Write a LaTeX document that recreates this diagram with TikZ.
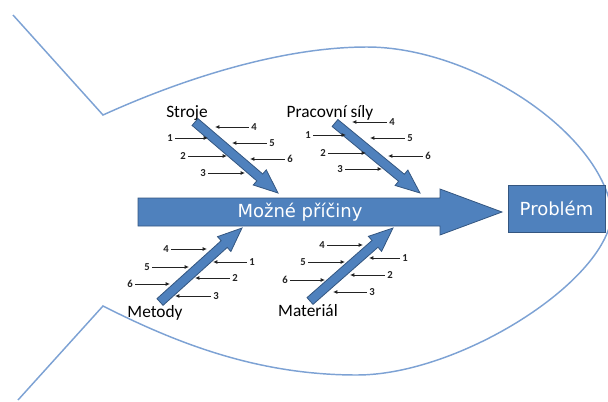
\documentclass[tikz,border=0pt]{standalone}
\usepackage{fontspec}
\setmainfont{Carlito}
\newfontfamily\boxfont{DejaVu Sans}
\usetikzlibrary{calc,arrows.meta}

\definecolor{fishline}{RGB}{125,162,212}
\definecolor{bonefill}{RGB}{79,129,189}
\definecolor{bonedraw}{RGB}{52,86,128}
\definecolor{tickgray}{RGB}{35,35,35}

\tikzset{
  outline/.style={draw=fishline, line width=1.1pt, line join=miter},
  blockarrow/.style={fill=bonefill, draw=bonedraw, line width=0.6pt, line join=miter},
  whitetext/.style={text=white, font=\boxfont\fontsize{13.5}{16}\selectfont, inner sep=0pt},
  bonelabel/.style={text=black, font=\fontsize{13}{15}\selectfont, inner sep=0pt},
  num/.style={text=tickgray, font=\bfseries\fontsize{8}{9}\selectfont, inner sep=1.6pt},
  tick/.style={draw=tickgray, line width=0.7pt, -{Latex[length=3.2pt,width=3pt]}},
}

% bone arrow from #1 (tail) to #2 (tip)
\newcommand\bonearrow[2]{%
  \coordinate (hb) at ($(#2)!18pt!(#1)$);
  \filldraw[blockarrow]
    ($(#1)!3.4pt!90:(#2)$) -- ($(hb)!3.4pt!-90:(#1)$) -- ($(hb)!7.5pt!-90:(#1)$)
    -- (#2) -- ($(hb)!7.5pt!90:(#1)$) -- ($(hb)!3.4pt!90:(#1)$)
    -- ($(#1)!3.4pt!-90:(#2)$) -- cycle;}

% numbered cause: node name, number, x, y, arrow end x
\newcommand\cause[5]{%
  \node[num] (#1) at (#3,#4) {#2};
  \coordinate (#1e) at (#5,#4);
  \draw[tick] (#1) -- (#1e);}

\begin{document}
\begin{tikzpicture}[x=0.75pt,y=-0.75pt]
\useasboundingbox (0,0) rectangle (608,401);
\clip (0,0) rectangle (608,401);

% fish outline
\draw[outline] (13,15) -- (103,115)
  .. controls (180,80) and (280,47) .. (367,47)
  .. controls (470,47) and (600,130) .. (612,212)
  .. controls (610,280) and (460,375) .. (357,375)
  .. controls (260,375) and (180,345) .. (103,306)
  -- (18,400);

% spine
\coordinate (spineTail) at (138,212);
\coordinate (spineTip) at (502,212);
\filldraw[blockarrow] (138,198) -- (440,198) -- (440,189) -- (spineTip)
  -- (440,235) -- (440,226) -- (138,226) -- cycle;
\node[whitetext] (causes) at (300,212) {Možné příčiny};

% effect box
\node[draw=bonedraw, fill=bonefill, line width=0.6pt, minimum width=72.75pt,
      minimum height=35.25pt, inner sep=0pt, text=white,
      font=\boxfont\fontsize{13.5}{16}\selectfont] (problem) at (556.5,208.5) {Problém};

% bones
\coordinate (t1) at (195,122); \coordinate (p1) at (278,193);
\coordinate (t2) at (335,123); \coordinate (p2) at (420,193);
\coordinate (t3) at (160,302); \coordinate (p3) at (242,228);
\coordinate (t4) at (310,301); \coordinate (p4) at (393,228);
\bonearrow{t1}{p1}
\bonearrow{t2}{p2}
\bonearrow{t3}{p3}
\bonearrow{t4}{p4}

% bone labels
\node[bonelabel] (stroje) at (187,113) {Stroje};
\node[bonelabel] (prac) at (330,113) {Pracovní síly};
\node[bonelabel] (metody) at (155,313) {Metody};
\node[bonelabel] (mat) at (308,311) {Materiál};

% causes: Stroje
\cause{sa4}{4}{254}{127}{215}
\cause{sa1}{1}{170}{138}{208}
\cause{sa5}{5}{272}{143}{232}
\cause{sa2}{2}{183}{156}{227}
\cause{sa6}{6}{290}{159}{250}
\cause{sa3}{3}{203}{173}{245}

% causes: Pracovní síly
\cause{pa4}{4}{392}{122}{352}
\cause{pa1}{1}{308}{135}{346}
\cause{pa5}{5}{410}{138}{370}
\cause{pa2}{2}{323}{153}{366}
\cause{pa6}{6}{428}{156}{388}
\cause{pa3}{3}{340}{169}{382}

% causes: Metody
\cause{ma4}{4}{166}{249}{207}
\cause{ma1}{1}{252}{262}{213}
\cause{ma5}{5}{147}{267}{189}
\cause{ma2}{2}{235}{278}{195}
\cause{ma6}{6}{130}{284}{170}
\cause{ma3}{3}{216}{296}{175}

% causes: Materiál
\cause{ta4}{4}{322}{245}{363}
\cause{ta1}{1}{405}{258}{369}
\cause{ta5}{5}{303}{262}{345}
\cause{ta2}{2}{390}{275}{350}
\cause{ta6}{6}{285}{280}{325}
\cause{ta3}{3}{372}{292}{333}
\end{tikzpicture}
\end{document}
